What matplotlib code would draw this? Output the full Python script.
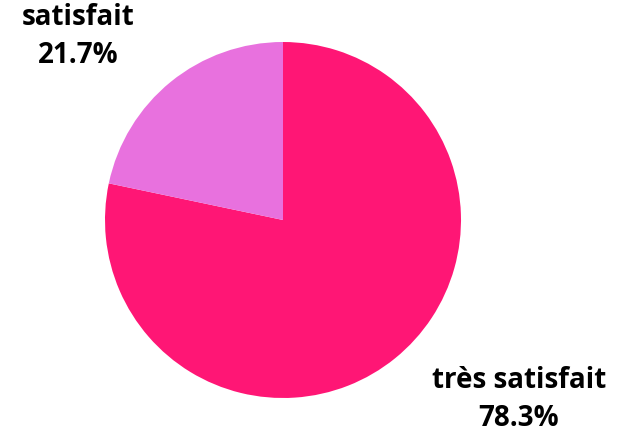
import matplotlib
matplotlib.use("Agg")
from matplotlib import pyplot as plt

labels = ["très satisfait", "satisfait"]
shares = [78.3, 21.7]
colors = ["#FF1675", "#E871DE"]

plt.rcParams['font.family'] = ['Open Sans', 'DejaVu Sans']

fig = plt.figure(figsize=(6.25, 4.34), dpi=100)
ax = fig.add_axes([105 / 625, 36 / 434, 356 / 625, 356 / 434])

ax.pie(shares, colors=colors, startangle=90, counterclock=False, radius=1,
       wedgeprops=dict(linewidth=0))
ax.set_xlim(-1, 1)
ax.set_ylim(-1, 1)
ax.set_aspect('auto')
ax.axis('off')

# label text sits outside the pie
label_pos = [(1.326, -1.01), (-1.15, 1.03)]
for lab, val, (x, y) in zip(labels, shares, label_pos):
    ax.text(x, y, f"{lab}\n{val}%", ha='center', va='center', fontsize=20,
            fontweight='bold', linespacing=1.42, clip_on=False)

fig.savefig("out.png", dpi=100)
